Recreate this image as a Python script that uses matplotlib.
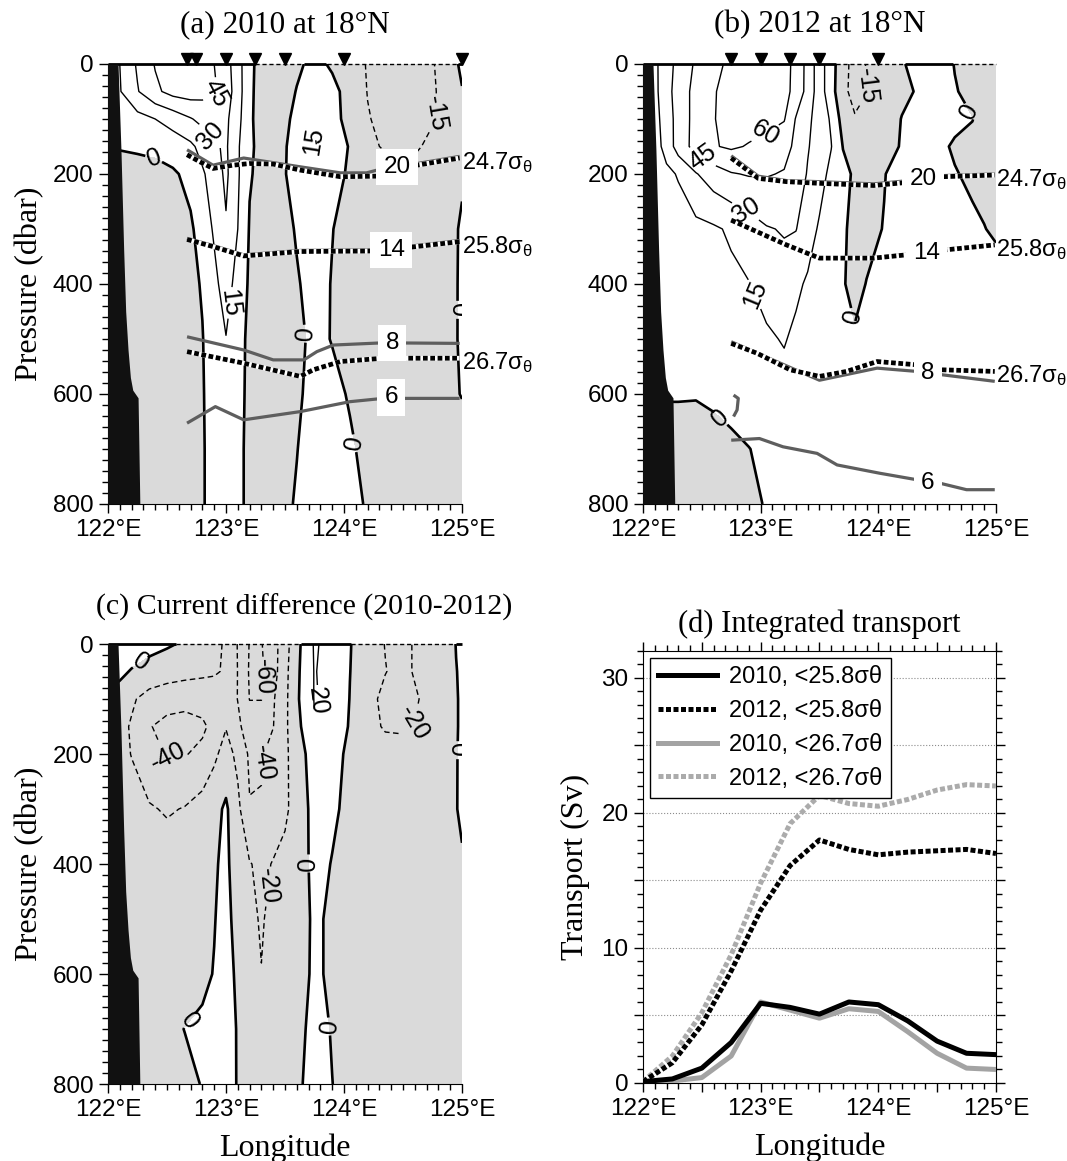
import numpy as np
import matplotlib
matplotlib.use("Agg")
import matplotlib.pyplot as plt
from matplotlib.ticker import MultipleLocator, FuncFormatter
from matplotlib.transforms import blended_transform_factory

SERIF = "Liberation Serif"
SANS = "Liberation Sans"
plt.rcParams.update({
    "font.family": SANS,
    "mathtext.fontset": "custom",
    "mathtext.rm": SANS,
    "mathtext.it": SANS,
})

SHADE = "#dadada"
ISO_GRAY = "#5e5e5e"

pres = [0, 50, 100, 150, 200, 300, 400, 500, 600, 700, 800]

# continental slope (black)
coast_p = [0, 156, 338, 450, 520, 570, 593, 607, 800]
coast_lon = [122.085, 122.11, 122.133, 122.15, 122.17, 122.19, 122.21, 122.255, 122.27]

# ---- (a) 2010 geostrophic velocity (cm/s) ----
lon_a = [122.0, 122.1, 122.25, 122.4, 122.55, 122.7, 122.8, 122.9, 123.0, 123.1, 123.2, 123.35,
         123.5, 123.6, 123.75, 123.9, 124.05, 124.2, 124.4, 124.6, 124.8, 124.95, 125.0]
vel_a = [
    [10, 15, 32, 46, 52, 55, 52, 45, 36, 21, 4, -11, -8, -2, 3, -1.5, -8, -16, -22, -20, -14, -1, 2],
    [8, 14, 29, 42, 50, 52, 50, 47, 38, 22, 3, -10, -4, 0.5, 8, 3, -4, -15.5, -22, -20, -14.5, -1, -0.5],
    [4, 6, 10, 15, 21, 29, 34, 37, 33, 20, 2, -8, -3, 4, 14, 5, -5, -14, -21, -20, -14.5, -1, -1],
    [0.5, 0.5, 1.5, 3, 7, 12, 20, 28, 32, 17, 2, -6, -1, 6, 16, 8, -1, -12, -18, -17, -10, -1, -1],
    [-2, -3, -4, -4, -2, 4, 13, 22, 33, 17, 1, -5, -0.5, 5, 8, 5, -2, -7, -10, -10, -8, -3, -1],
    [-3, -4, -5, -5, -4, -2, 6, 17, 28.5, 15, -1, -6, -3, 1, 5, 0.3, -4, -7, -8, -7, -4, -0.5, 1],
    [-3, -4, -5, -5, -4, -3, 1, 11, 22, 9, -2, -6, -5, -1, 4, -0.5, -5, -7, -8, -7, -5, -0.5, 1.5],
    [-3, -4, -5, -5, -4, -3, -0.5, 7, 14.5, 5, -3, -6, -5, -3, 3, -0.5, -4, -6, -7, -6, -4, -0.3, 1],
    [-3, -4, -5, -5, -4, -3, -1, 6, 10, 4, -3, -6, -5, -2, 4, 3, -1, -4, -6, -6, -4, -0.3, 0.2],
    [-3, -4, -5, -5, -4, -3, -1.2, 5, 8, 3, -3, -6, -4, -0.3, 5, 5, 1.5, -3, -6, -6, -5, -3, -2],
    [-3, -4, -5, -5, -4, -3, -1.2, 5, 8, 3, -3, -6, -2, 1, 5, 6, 3, -1, -5, -6, -5, -3, -2],
]
levels_a = [-15, 0, 15, 30, 45]
clab_a = [(122.92, 53), (122.86, 132), (122.38, 180), (123.06, 435), (123.75, 140),
          (123.69, 490), (124.08, 690), (124.71, 90), (124.97, 447)]
stations_a = [122.67, 122.75, 123.0, 123.25, 123.5, 124.0, 125.0]

# isotherms (deg C) and isopycnals, 2010
t20_a = ([122.67, 122.89, 123.15, 123.63, 123.97, 124.19, 124.28, 124.62, 124.98],
         [156, 184, 171, 187, 198, 198, 193, 181, 168])
t14_a = ([122.67, 122.89, 123.15, 123.63, 124.25, 124.57, 124.98],
         [317, 330, 347, 339, 338, 331, 321])
t8_a = ([122.67, 123.15, 123.4, 123.66, 123.77, 123.91, 124.33, 124.98],
        [496, 520, 538, 538, 523, 511, 507, 508])
t6_a = ([122.67, 122.91, 123.15, 123.63, 124.05, 124.33, 124.98],
        [653, 623, 647, 632, 614, 608, 608])
s247_a = ([122.67, 122.78, 122.89, 123.06, 123.2, 123.4, 123.63, 123.97, 124.28, 124.62, 124.98],
          [165, 178, 190, 184, 181, 182, 193, 205, 204, 184, 171])
s258_a = ([122.67, 122.89, 123.15, 123.63, 124.25, 124.57, 124.98],
          [319, 332, 349, 341, 340, 333, 323])
s267_a = ([122.67, 123.15, 123.63, 123.74, 123.97, 124.33, 124.98],
          [523, 544, 568, 556, 541, 535, 535])
tlab_a = [(124.45, 187, "20"), (124.4, 338, "14"), (124.41, 507, "8"), (124.4, 606, "6")]

# ---- (b) 2012 geostrophic velocity (cm/s) ----
lon_b = [122.0, 122.1, 122.2, 122.3, 122.45, 122.6, 122.75, 122.9, 123.05, 123.2, 123.3, 123.4,
         123.5, 123.6, 123.7, 123.8, 123.9, 124.05, 124.2, 124.35, 124.5, 124.65, 124.8, 124.9, 125.0]
vel_b = [
    [8, 12, 23, 35, 47, 55, 64, 68, 68, 65, 56, 40, 22, 6, -10, -20, -14.5, -8, -1, 4, 4, -0.3, -5, -5, -5],
    [7, 11, 25, 36, 50, 59, 65, 68, 68, 65, 55, 40, 22, 6, -12, -19, -15.5, -8, -2, 1, 3, 0.5, -2, -4, -4],
    [6, 10, 22, 36, 50, 59.5, 64, 66, 65, 61, 44, 33, 24, 13, -6, -14, -10, -5, 0.3, 2, 3, 2, 0.2, -3, -3],
    [5, 9, 20, 37, 50, 59, 62, 59, 55, 50, 42, 31, 24, 15.5, -0.5, -6, -8, -5, 1, 3, 2, -1, -2, -3, -3],
    [4, 7, 12, 16, 29, 38, 44, 46, 46, 44, 38, 29, 21, 11, 4, -2, -3, -0.3, 3, 4, 3, 0.5, -1.5, -2, -2],
    [4, 5, 7, 9, 11, 13, 17, 23, 29, 31, 30.5, 22, 13, 6, 1, -2, -2, 0.3, 2, 3, 3, 2.5, 1.5, 0.2, -1],
    [3, 4, 5, 6, 8, 10, 12, 14.5, 20, 25, 18, 13, 8, 4, 0.5, -2, 0.2, 3, 4, 4, 4, 4, 3.5, 3, 3],
    [3, 3, 4, 5, 6, 7, 8, 10, 13, 16, 12, 9, 6, 4, 2, 0.8, 2, 3, 4, 4, 4, 4, 4, 4, 4],
    [0.5, 0.5, 0.5, 0.5, 0.4, 1.2, 2.5, 5, 8, 10, 8, 6, 5, 4, 3, 3, 3, 3, 4, 4, 4, 4, 4, 4, 4],
    [-3, -3, -3, -3, -3, -2.5, -1.5, -0.2, 2, 5, 5, 4, 4, 3, 3, 3, 3, 3, 3, 3, 3, 3, 3, 3, 3],
    [-4, -4, -4, -4, -4, -3.5, -2.5, -1, 0.3, 3, 4, 3, 3, 3, 3, 3, 3, 3, 3, 3, 3, 3, 3, 3, 3],
]
levels_b = [-15, 0, 15, 30, 45, 60]
clab_b = [(123.05, 130), (122.47, 181), (122.88, 265), (122.97, 417), (123.8, 459),
          (123.9, 40), (124.75, 89), (122.73, 629)]
stations_b = [122.75, 123.0, 123.25, 123.5, 124.0]

t20_b = ([122.75, 122.98, 123.22, 123.5, 123.96, 124.21, 124.54, 124.99],
         [167, 204, 212, 214, 218, 213, 203, 200])
t14_b = ([122.75, 123.22, 123.5, 123.96, 124.24, 124.57, 124.99],
         [283, 328, 352, 352, 346, 337, 328])
t8_b = ([122.75, 123.5, 123.99, 124.33, 124.54, 124.99],
        [505, 575, 553, 559, 565, 577])
t7_b = ([122.77, 122.81, 122.8, 122.77], [602, 608, 629, 641])
t6_b = ([122.75, 122.99, 123.19, 123.48, 123.65, 124.01, 124.33, 124.52, 124.75, 124.99],
        [684, 681, 696, 708, 729, 744, 756, 762, 774, 774])
s247_b = ([122.75, 122.98, 123.22, 123.5, 123.96, 124.21, 124.54, 124.99],
          [171, 208, 214, 217, 221, 216, 205, 202])
s258_b = ([122.75, 123.22, 123.5, 123.96, 124.24, 124.57, 124.99],
          [284, 329, 353, 353, 347, 338, 329])
s267_b = ([122.75, 122.97, 123.25, 123.5, 123.73, 123.99, 124.33, 124.54, 124.99],
          [508, 526, 556, 568, 559, 541, 547, 556, 559])
tlab_b = [(124.38, 210, "20"), (124.41, 344, "14"), (124.42, 562, "8"), (124.42, 762, "6")]

# ---- (c) velocity difference 2010-2012 (cm/s) ----
lon_c = [122.0, 122.1, 122.2, 122.35, 122.5, 122.65, 122.8, 122.9, 123.0, 123.1, 123.2, 123.3,
         123.4, 123.5, 123.6, 123.75, 123.9, 124.05, 124.2, 124.35, 124.5, 124.65, 124.8, 124.95, 125.0]
vel_c = [
    [10, 10, 8, 5, 2, -2, -10, -16, -22, -41, -61, -61, -48, -28, -6, 22, 14, 1, -12, -20.5, -25, -15, -6, 0.2, 1],
    [4, 3, -1, -6, -10, -13, -16, -18, -22, -40.5, -62, -63, -48, -26, -4, 21, 13, 0.3, -12, -19.5, -25, -15, -6, -0.2, 1],
    [-2, -6, -17, -28, -33, -35, -33, -30, -28, -40.5, -60.5, -60.5, -42, -25, -3, 21, 16, -0.5, -15, -24, -25, -19.5, -8, -0.5, 1],
    [-8, -14, -22, -39, -45, -46, -43, -35, -21, -36, -50, -50, -40.5, -24, -6, 19, 12, -1.5, -14, -22, -23, -18, -8, -0.5, 1],
    [-10, -15, -20.5, -35, -41, -41, -36, -24, -12, -25, -43, -42, -33, -24, -10, 10, 5, -3, -9, -12, -12, -10, -6, -0.3, 1],
    [-10, -12, -14, -18, -22, -19, -12, -6, 3, -15, -39, -38.5, -30, -24, -11, 6, 2, -3, -5, -6, -6, -5, -3, -0.2, 0.8],
    [-8, -8, -9, -10, -10, -9, -6, -1.5, 3, -8, -19, -24, -19, -14, -8, 4, -0.5, -3, -4, -5, -5, -4, -3, -2, -0.5],
    [-7, -7, -7, -8, -8, -7, -4, -0.5, 4, -5, -15, -22, -14, -10, -6, 2, -2, -3, -4, -4, -4, -4, -3, -2, -2],
    [-6, -6, -6, -6, -6, -5, -2.5, 0.5, 4, -2, -17, -19.5, -12, -9, -5, 2, -2, -3, -4, -4, -4, -4, -3, -2, -2],
    [-6, -6, -6, -5, -3, 0.2, 2, 3, 3, -0.5, -8, -10, -9, -7, -3, 3, -0.5, -3, -4, -4, -4, -4, -3, -2, -2],
    [-6, -6, -6, -6, -5, -3, 0.5, 2, 2, -0.3, -6, -8, -8, -6, -1.5, 3, 0.1, -3, -4, -4, -4, -4, -3, -2, -2],
]
levels_c = [-60, -40, -20, 0, 20]
clab_c = [(122.31, 45), (122.51, 214), (123.28, 59), (123.37, 217), (123.86, 108),
          (124.59, 144), (124.95, 193), (123.68, 399), (123.36, 441), (122.72, 690), (123.85, 696)]

# ---- (d) integrated transport (Sv) ----
lon_st = [122.0, 122.25, 122.5, 122.75, 123.0, 123.25, 123.5, 123.75, 124.0, 124.25, 124.5, 124.75, 125.0]
tr_2010_258 = [0.1, 0.3, 1.1, 3.0, 5.9, 5.6, 5.1, 6.0, 5.8, 4.6, 3.1, 2.2, 2.1]
tr_2012_258 = [0.1, 1.5, 4.3, 8.3, 12.8, 16.1, 18.0, 17.3, 16.9, 17.1, 17.2, 17.3, 17.0]
tr_2010_267 = [0.05, 0.15, 0.4, 2.0, 6.0, 5.4, 4.8, 5.5, 5.3, 3.8, 2.2, 1.1, 1.0]
tr_2012_267 = [0.1, 2.0, 5.2, 9.5, 14.8, 19.2, 21.3, 20.7, 20.5, 21.0, 21.7, 22.1, 22.0]

lon_fmt = FuncFormatter(lambda v, _: f"{v:.0f}\u00b0E" if abs(v - round(v)) < 1e-6 else "")


def style_section(ax, ylabel=True):
    ax.set_xlim(122, 125)
    ax.set_ylim(800, 0)
    for s in ("top", "right"):
        ax.spines[s].set_visible(False)
    ax.xaxis.set_major_locator(MultipleLocator(1))
    ax.xaxis.set_minor_locator(MultipleLocator(0.1))
    ax.xaxis.set_major_formatter(lon_fmt)
    ax.yaxis.set_major_locator(MultipleLocator(200))
    ax.yaxis.set_minor_locator(MultipleLocator(20))
    ax.tick_params(which="both", direction="out", labelsize=17.5, width=1)
    ax.tick_params(which="major", length=6.5, pad=4)
    ax.tick_params(which="minor", length=4)
    if ylabel:
        ax.set_ylabel("Pressure (dbar)", fontfamily=SERIF, fontsize=23, labelpad=6)


def draw_section(ax, lon, vel, levels, clab):
    v = np.array(vel, float)
    ax.contourf(lon, pres, v, levels=[-1000, 0], colors=[SHADE], zorder=1)
    styles = [(0, (4, 2.5)) if l < 0 else "solid" for l in levels]
    widths = [1.9 if l == 0 else 1.0 for l in levels]
    cs = ax.contour(lon, pres, v, levels=levels, colors="k", linestyles=styles,
                    linewidths=widths, zorder=2)
    for t in ax.clabel(cs, manual=clab, inline=True, fmt="%d", fontsize=18, inline_spacing=2):
        t.set_zorder(6)
    # sign of the surface velocity along the top edge
    x = np.linspace(122, 125, 901)
    s = np.interp(x, lon, v[0])
    ax.plot(x, np.where(s >= 0, 0, np.nan), color="k", lw=2.0, clip_on=False, zorder=7,
            solid_capstyle="butt")
    ax.plot(x, np.where(s < 0, 0, np.nan), color="k", lw=1.0, ls=(0, (3, 2)), clip_on=False, zorder=7)
    ax.fill_betweenx(coast_p, 121.99, coast_lon, color="#111111", lw=0, zorder=8)


def isotherm(ax, line):
    ax.plot(line[0], line[1], color=ISO_GRAY, lw=2.3, zorder=3, solid_capstyle="butt")


def isopycnal(ax, line, name):
    ax.plot(line[0], line[1], color="white", lw=3.4, zorder=4, solid_capstyle="butt")
    ax.plot(line[0], line[1], color="k", lw=3.4, ls=(0, (1, 0.55)), zorder=4.2,
            dash_capstyle="butt")
    ax.text(125.0, line[1][-1] + 20, name + r"$\mathregular{\sigma_\theta}$", ha="left",
            va="baseline", fontsize=17, clip_on=False, zorder=9)


def stations(ax, lons):
    tr = blended_transform_factory(ax.transData, ax.transAxes)
    ax.plot(lons, [1.012] * len(lons), "v", color="k", ms=8.5, transform=tr, clip_on=False,
            zorder=9)


fig = plt.figure(figsize=(10.67, 11.61), dpi=100)
ax_a = fig.add_axes([0.1012, 0.5659, 0.3318, 0.3790])
ax_b = fig.add_axes([0.6026, 0.5659, 0.3308, 0.3790])
ax_c = fig.add_axes([0.1012, 0.0663, 0.3318, 0.3790])
ax_d = fig.add_axes([0.6026, 0.0672, 0.3308, 0.3721])

# (a)
draw_section(ax_a, lon_a, vel_a, levels_a, clab_a)
for line in (t20_a, t14_a, t8_a, t6_a):
    isotherm(ax_a, line)
isopycnal(ax_a, s247_a, "24.7")
isopycnal(ax_a, s258_a, "25.8")
isopycnal(ax_a, s267_a, "26.7")
for x, p, s in tlab_a:
    ax_a.text(x, p, s, ha="center", va="center", fontsize=17.5, zorder=5,
              bbox=dict(boxstyle="square,pad=0.3", fc="white", ec="none"))
stations(ax_a, stations_a)
style_section(ax_a)
ax_a.set_title("(a) 2010 at 18\u00b0N", fontfamily=SERIF, fontsize=22.5, pad=23)

# (b)
draw_section(ax_b, lon_b, vel_b, levels_b, clab_b)
for line in (t20_b, t14_b, t8_b, t7_b, t6_b):
    isotherm(ax_b, line)
isopycnal(ax_b, s247_b, "24.7")
isopycnal(ax_b, s258_b, "25.8")
isopycnal(ax_b, s267_b, "26.7")
for x, p, s in tlab_b:
    ax_b.text(x, p, s, ha="center", va="center", fontsize=17.5, zorder=5,
              bbox=dict(boxstyle="square,pad=0.3", fc="white", ec="none"))
stations(ax_b, stations_b)
style_section(ax_b, ylabel=False)
ax_b.set_title("(b) 2012 at 18\u00b0N", fontfamily=SERIF, fontsize=22.5, pad=23)

# (c)
draw_section(ax_c, lon_c, vel_c, levels_c, clab_c)
style_section(ax_c)
ax_c.set_xlabel("Longitude", fontfamily=SERIF, fontsize=23, labelpad=9)
ax_c.set_title("(c) Current difference (2010-2012)", fontfamily=SERIF, fontsize=21.5, pad=21, x=0.553)

# (d)
ax_d.plot(lon_st, tr_2010_258, color="k", lw=3.6, label="2010, <25.8\u03c3\u03b8", zorder=4)
ax_d.plot(lon_st, tr_2012_258, color="k", lw=3.6, ls=(0, (1, 0.5)), label="2012, <25.8\u03c3\u03b8",
          zorder=4)
ax_d.plot(lon_st, tr_2010_267, color="#a3a3a3", lw=3.6, label="2010, <26.7\u03c3\u03b8", zorder=3)
ax_d.plot(lon_st, tr_2012_267, color="#ababab", lw=3.6, ls=(0, (1, 0.5)),
          label="2012, <26.7\u03c3\u03b8", zorder=3)
ax_d.set_xlim(122, 125)
ax_d.set_ylim(0, 32)
ax_d.xaxis.set_major_locator(MultipleLocator(0.5))
ax_d.xaxis.set_minor_locator(MultipleLocator(0.1))
ax_d.xaxis.set_major_formatter(lon_fmt)
ax_d.yaxis.set_major_locator(MultipleLocator(5))
ax_d.yaxis.set_minor_locator(MultipleLocator(1))
ax_d.yaxis.set_major_formatter(FuncFormatter(lambda v, _: f"{v:.0f}" if v % 10 == 0 else ""))
ax_d.yaxis.grid(True, which="major", ls=":", color="#8c8c8c", lw=0.8)
ax_d.tick_params(which="both", direction="out", top=True, right=True, labelsize=17.5, width=1)
ax_d.tick_params(which="major", length=6.5, pad=4)
ax_d.tick_params(which="minor", length=4)
ax_d.set_xlabel("Longitude", fontfamily=SERIF, fontsize=23, labelpad=9)
ax_d.set_ylabel("Transport (Sv)", fontfamily=SERIF, fontsize=23, labelpad=8)
ax_d.set_title("(d) Integrated transport", fontfamily=SERIF, fontsize=22, pad=14)
leg = ax_d.legend(loc="upper left", fontsize=17, frameon=True, fancybox=False, edgecolor="k",
                  framealpha=1, handlelength=2.5, borderaxespad=0.3, labelspacing=0.5,
                  handletextpad=0.5, borderpad=0.35)
leg.get_frame().set_linewidth(1.0)

fig.savefig("out.png", dpi=100)
